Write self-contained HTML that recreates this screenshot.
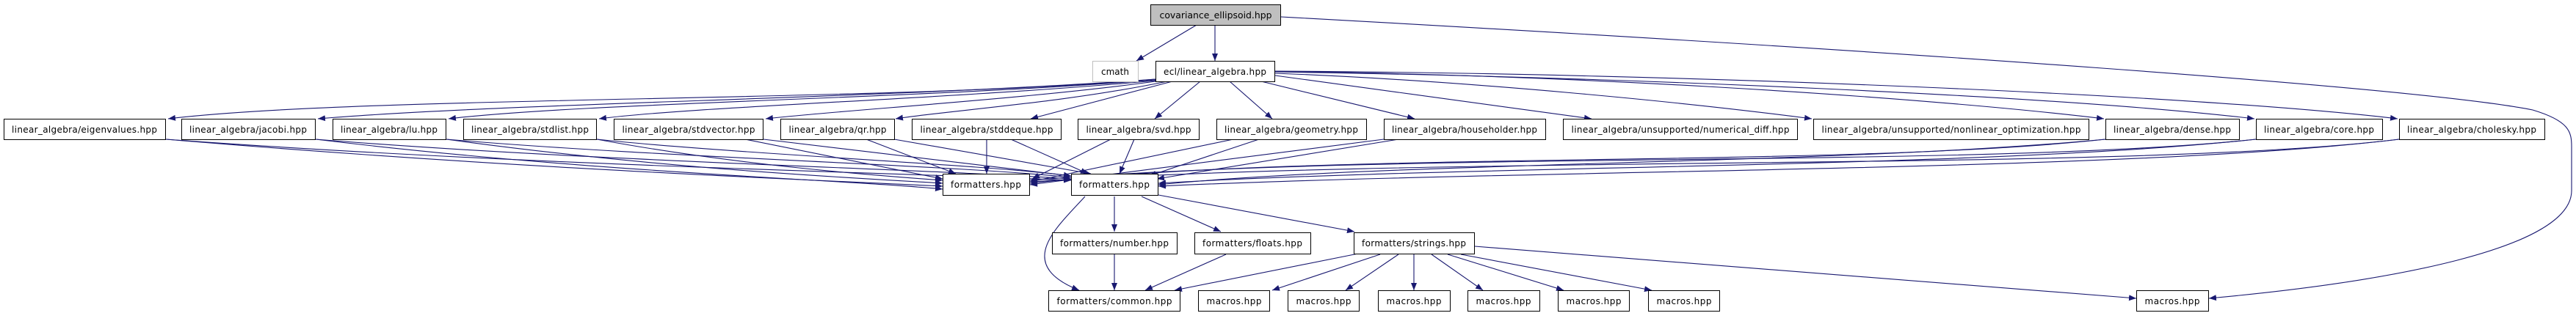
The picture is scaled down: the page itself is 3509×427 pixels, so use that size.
<!DOCTYPE html>
<html><head><meta charset="utf-8"><style>
html,body{margin:0;padding:0;background:#fff;}
svg{display:block;}
text{font-family:"DejaVu Sans","Liberation Sans",sans-serif;font-size:12px;fill:#000;}
</style></head><body>
<svg width="3509" height="427" viewBox="0 0 3509 427" xmlns="http://www.w3.org/2000/svg">
<defs>
<marker id="a" viewBox="0 0 10 10" refX="10" refY="5" markerWidth="10" markerHeight="10" markerUnits="userSpaceOnUse" orient="auto">
<path d="M0,1 L10,5 L0,9 Z" fill="#191970"/>
</marker>
</defs>
<g fill="none" stroke="#191970" stroke-width="1.1" marker-end="url(#a)">
<path d="M1630,34 L1548,83"/>
<path d="M1655,34 L1655,83"/>
<path d="M1745,23 C2600,70 3300,120 3450,150 C3500,165 3503,180 3503,200 L3503,260 C3503,340 3250,385 3009,407"/>
<path d="M1574,108 C1200,140 500,130 229,162"/>
<path d="M1574,108 C1200,135 700,140 433,162"/>
<path d="M1574,109 C1250,135 800,140 611,162"/>
<path d="M1574,110 C1300,135 950,145 816,162"/>
<path d="M1574,111 C1400,135 1150,150 1043,162"/>
<path d="M1590,111 C1450,140 1300,150 1220,162"/>
<path d="M1597,111 L1404,162"/>
<path d="M1635,111 L1573,162"/>
<path d="M1675,111 L1733,162"/>
<path d="M1718,111 L1927,162"/>
<path d="M1737,103 L2168,162"/>
<path d="M1737,100 C2000,110 2300,140 2468,162"/>
<path d="M1737,98 C2100,100 2600,130 2866,162"/>
<path d="M1737,98 C2200,105 2800,130 3071,162"/>
<path d="M1737,97 C2300,100 3000,130 3266,162"/>
<path d="M226,190 C700,230 1100,245 1284,254"/>
<path d="M226,190 C700,225 1200,235 1459,246"/>
<path d="M430,190 C800,235 1150,245 1284,258"/>
<path d="M430,190 C800,220 1250,230 1459,244"/>
<path d="M608,190 C900,230 1150,242 1284,250"/>
<path d="M608,190 C900,215 1300,225 1459,242"/>
<path d="M813,190 C1000,225 1200,240 1284,246"/>
<path d="M813,190 C1000,210 1350,225 1459,240"/>
<path d="M1015,190 L1284,244"/>
<path d="M1040,190 L1459,240"/>
<path d="M1180,190 L1302,237"/>
<path d="M1218,190 L1486,237"/>
<path d="M1344,190 L1344,237"/>
<path d="M1377,190 L1482,237"/>
<path d="M1513,190 L1406,244"/>
<path d="M1545,190 L1525,237"/>
<path d="M1680,190 L1403,248"/>
<path d="M1715,190 L1565,240"/>
<path d="M1885,190 L1403,252"/>
<path d="M1905,190 L1576,244"/>
<path d="M2868,190 C2500,230 1800,205 1403,250"/>
<path d="M2868,190 C2500,225 1900,220 1578,252"/>
<path d="M3073,190 C2700,230 1900,205 1403,246"/>
<path d="M3073,190 C2700,230 2000,225 1578,250"/>
<path d="M3268,190 C2900,235 2000,210 1403,248"/>
<path d="M3268,190 C2900,235 2100,230 1578,254"/>
<path d="M1478,268 C1440,310 1380,360 1470,396"/>
<path d="M1518,268 L1518,316"/>
<path d="M1555,268 L1663,316"/>
<path d="M1578,266 L1845,316"/>
<path d="M1518,347 L1518,396"/>
<path d="M1670,347 L1560,396"/>
<path d="M1850,346 L1600,396"/>
<path d="M1880,347 L1733,396"/>
<path d="M1905,347 L1833,396"/>
<path d="M1926,347 L1926,396"/>
<path d="M1950,347 L2020,396"/>
<path d="M1972,347 L2130,396"/>
<path d="M1990,347 L2250,396"/>
<path d="M2009,336 L2910,407"/>
</g>
<g stroke-width="1">
<rect x="1567.5" y="6.5" width="177" height="28" fill="#bfbfbf" stroke="#000"/>
<text x="1656" y="25" text-anchor="middle" textLength="153" lengthAdjust="spacingAndGlyphs">covariance_ellipsoid.hpp</text>
<rect x="1488.5" y="83.5" width="62" height="28" fill="#fff" stroke="#bfbfbf"/>
<text x="1519" y="102" text-anchor="middle">cmath</text>
<g fill="#fff" stroke="#000">
<rect x="1574.5" y="83.5" width="162" height="28"/>
<rect x="5.5" y="162.5" width="220" height="28"/>
<rect x="247.5" y="162.5" width="182" height="28"/>
<rect x="453.5" y="162.5" width="154" height="28"/>
<rect x="631.5" y="162.5" width="181" height="28"/>
<rect x="836.5" y="162.5" width="203" height="28"/>
<rect x="1063.5" y="162.5" width="155" height="28"/>
<rect x="1242.5" y="162.5" width="203" height="28"/>
<rect x="1468.5" y="162.5" width="165" height="28"/>
<rect x="1657.5" y="162.5" width="204" height="28"/>
<rect x="1885.5" y="162.5" width="220" height="28"/>
<rect x="2129.5" y="162.5" width="319" height="28"/>
<rect x="2470.5" y="162.5" width="375" height="28"/>
<rect x="2868.5" y="162.5" width="182" height="28"/>
<rect x="3073.5" y="162.5" width="172" height="28"/>
<rect x="3268.5" y="162.5" width="198" height="28"/>
<rect x="1284.5" y="237.5" width="118" height="29"/>
<rect x="1459.5" y="237.5" width="118" height="29"/>
<rect x="1433.5" y="317.5" width="170" height="29"/>
<rect x="1627.5" y="317.5" width="158" height="29"/>
<rect x="1844.5" y="317.5" width="164" height="29"/>
<rect x="1428.5" y="396.5" width="179" height="28"/>
<rect x="1632.5" y="396.5" width="97" height="28"/>
<rect x="1754.5" y="396.5" width="97" height="28"/>
<rect x="1877.5" y="396.5" width="98" height="28"/>
<rect x="1999.5" y="396.5" width="98" height="28"/>
<rect x="2122.5" y="396.5" width="97" height="28"/>
<rect x="2245.5" y="396.5" width="97" height="28"/>
<rect x="2910.5" y="396.5" width="98" height="28"/>
</g>
</g>
<g text-anchor="middle" lengthAdjust="spacingAndGlyphs">
<text x="1655" y="102" textLength="140">ecl/linear_algebra.hpp</text>
<text x="115" y="181" textLength="198">linear_algebra/eigenvalues.hpp</text>
<text x="338" y="181" textLength="160">linear_algebra/jacobi.hpp</text>
<text x="530" y="181" textLength="132">linear_algebra/lu.hpp</text>
<text x="722" y="181" textLength="160">linear_algebra/stdlist.hpp</text>
<text x="938" y="181" textLength="181">linear_algebra/stdvector.hpp</text>
<text x="1141" y="181" textLength="133">linear_algebra/qr.hpp</text>
<text x="1344" y="181" textLength="181">linear_algebra/stddeque.hpp</text>
<text x="1551" y="181" textLength="143">linear_algebra/svd.hpp</text>
<text x="1759" y="181" textLength="182">linear_algebra/geometry.hpp</text>
<text x="1995" y="181" textLength="198">linear_algebra/householder.hpp</text>
<text x="2289" y="181" textLength="297">linear_algebra/unsupported/numerical_diff.hpp</text>
<text x="2658" y="181" textLength="353">linear_algebra/unsupported/nonlinear_optimization.hpp</text>
<text x="2959" y="181" textLength="160">linear_algebra/dense.hpp</text>
<text x="3159" y="181" textLength="150">linear_algebra/core.hpp</text>
<text x="3367" y="181" textLength="176">linear_algebra/cholesky.hpp</text>
<text x="1343" y="256" textLength="96">formatters.hpp</text>
<text x="1518" y="256" textLength="96">formatters.hpp</text>
<text x="1518" y="336" textLength="148">formatters/number.hpp</text>
<text x="1706" y="336" textLength="136">formatters/floats.hpp</text>
<text x="1926" y="336" textLength="142">formatters/strings.hpp</text>
<text x="1518" y="415" textLength="157">formatters/common.hpp</text>
<text x="1681" y="415" textLength="75">macros.hpp</text>
<text x="1803" y="415" textLength="75">macros.hpp</text>
<text x="1926" y="415" textLength="75">macros.hpp</text>
<text x="2048" y="415" textLength="75">macros.hpp</text>
<text x="2171" y="415" textLength="75">macros.hpp</text>
<text x="2294" y="415" textLength="75">macros.hpp</text>
<text x="2959" y="415" textLength="75">macros.hpp</text>
</g>
</svg>
</body></html>
